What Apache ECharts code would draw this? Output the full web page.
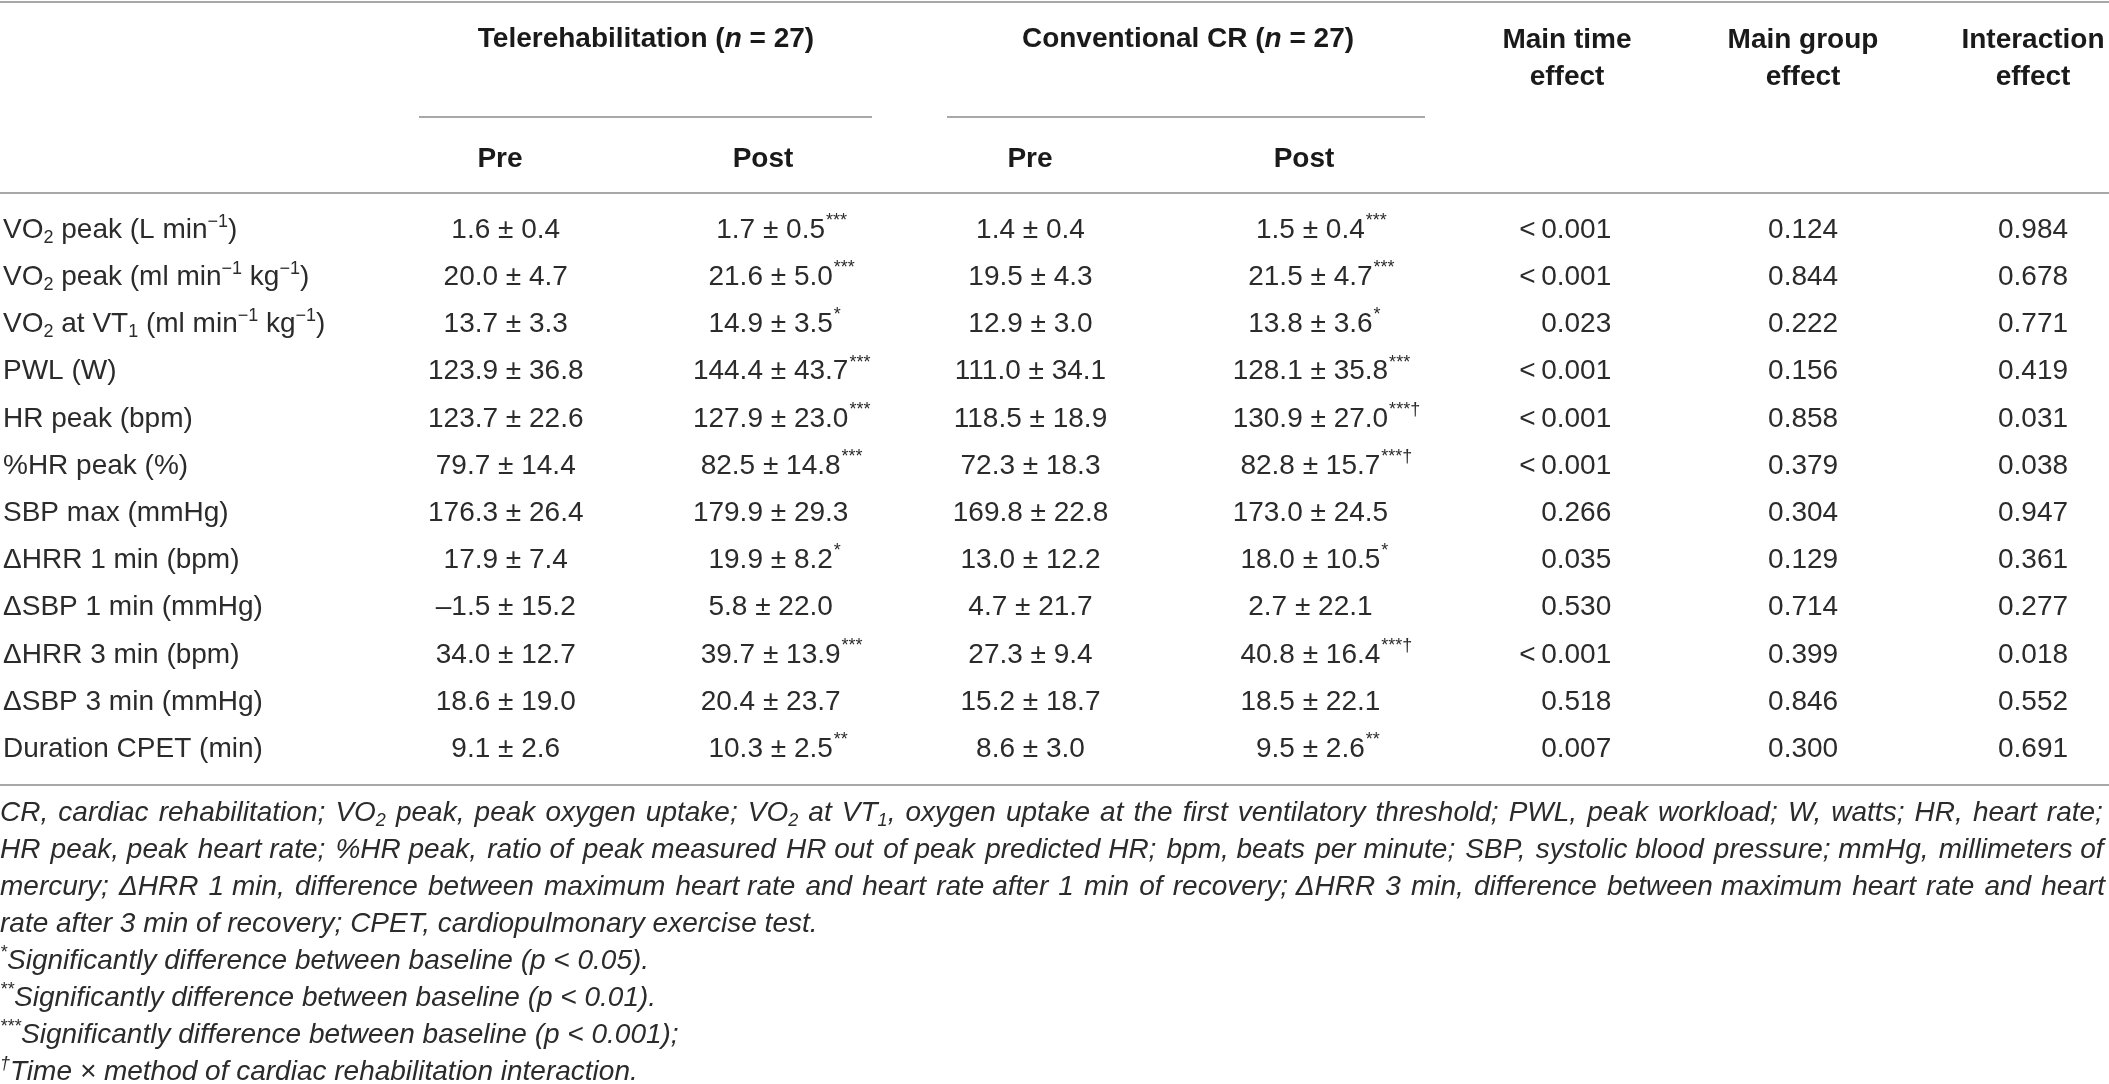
<!DOCTYPE html>
<html>
<head>
<meta charset="utf-8">
<script src="https://cdn.jsdelivr.net/npm/echarts@6/dist/echarts.min.js"></script>
<style>
html, body { margin: 0; padding: 0; background: #fff; }
#chart { width: 2109px; height: 1084px; }
</style>
</head>
<body>
<div id="chart"></div>
<script>
// table data
var rowLabels = [
    'VO{sub|2} peak (L min{sup|−1})',
    'VO{sub|2} peak (ml min{sup|−1} kg{sup|−1})',
    'VO{sub|2} at VT{sub|1} (ml min{sup|−1} kg{sup|−1})',
    'PWL (W)',
    'HR peak (bpm)',
    '%HR peak (%)',
    'SBP max (mmHg)',
    'ΔHRR 1 min (bpm)',
    'ΔSBP 1 min (mmHg)',
    'ΔHRR 3 min (bpm)',
    'ΔSBP 3 min (mmHg)',
    'Duration CPET (min)'
];
var telePreMean = [1.6, 20.0, 13.7, 123.9, 123.7, 79.7, 176.3, 17.9, -1.5, 34.0, 18.6, 9.1];
var telePreSd = [0.4, 4.7, 3.3, 36.8, 22.6, 14.4, 26.4, 7.4, 15.2, 12.7, 19.0, 2.6];
var telePostMean = [1.7, 21.6, 14.9, 144.4, 127.9, 82.5, 179.9, 19.9, 5.8, 39.7, 20.4, 10.3];
var telePostSd = [0.5, 5.0, 3.5, 43.7, 23.0, 14.8, 29.3, 8.2, 22.0, 13.9, 23.7, 2.5];
var telePostSig = ['***', '***', '*', '***', '***', '***', '', '*', '', '***', '', '**'];
var convPreMean = [1.4, 19.5, 12.9, 111.0, 118.5, 72.3, 169.8, 13.0, 4.7, 27.3, 15.2, 8.6];
var convPreSd = [0.4, 4.3, 3.0, 34.1, 18.9, 18.3, 22.8, 12.2, 21.7, 9.4, 18.7, 3.0];
var convPostMean = [1.5, 21.5, 13.8, 128.1, 130.9, 82.8, 173.0, 18.0, 2.7, 40.8, 18.5, 9.5];
var convPostSd = [0.4, 4.7, 3.6, 35.8, 27.0, 15.7, 24.5, 10.5, 22.1, 16.4, 22.1, 2.6];
var convPostSig = ['***', '***', '*', '***', '***†', '***†', '', '*', '', '***†', '', '**'];
var timeEffect = ['<\u20090.001', '<\u20090.001', '0.023', '<\u20090.001', '<\u20090.001', '<\u20090.001', '0.266', '0.035', '0.530', '<\u20090.001', '0.518', '0.007'];
var groupEffect = ['0.124', '0.844', '0.222', '0.156', '0.858', '0.379', '0.304', '0.129', '0.714', '0.399', '0.846', '0.300'];
var interactionEffect = ['0.984', '0.678', '0.771', '0.419', '0.031', '0.038', '0.947', '0.361', '0.277', '0.018', '0.552', '0.691'];

var footnotes = [
    'CR, cardiac rehabilitation; VO{sub|2} peak, peak oxygen uptake; VO{sub|2} at VT{sub|1}, oxygen uptake at the first ventilatory threshold; PWL, peak workload; W, watts; HR, heart rate;',
    'HR peak, peak heart rate; %HR peak, ratio of peak measured HR out of peak predicted HR; bpm, beats per minute; SBP, systolic blood pressure; mmHg, millimeters of',
    'mercury; ΔHRR 1 min, difference between maximum heart rate and heart rate after 1 min of recovery; ΔHRR 3 min, difference between maximum heart rate and heart',
    'rate after 3 min of recovery; CPET, cardiopulmonary exercise test.',
    '{sup|*}Significantly difference between baseline (p < 0.05).',
    '{sup|**}Significantly difference between baseline (p < 0.01).',
    '{sup|***}Significantly difference between baseline (p < 0.001);',
    '{sup|†}Time × method of cardiac rehabilitation interaction.'
];
var justifiedLines = 3;

// layout
var FONT = '"Liberation Sans", Arial, Helvetica, sans-serif';
var FS = 28;
var INK = '#2b2b2b';
var RULE = '#a8a8a8';
var colX = { telePre: 505, telePost: 770, convPre: 1030, convPost: 1310, time: 1611, group: 1803, inter: 2033 };

var ctx = document.createElement('canvas').getContext('2d');
function textWidth(t, font) {
    ctx.font = font || (FS + 'px ' + FONT);
    return ctx.measureText(t).width;
}

function fmt(v) {
    return (v < 0 ? '–' : '') + Math.abs(v).toFixed(1);
}
function cells(means, sds) {
    return means.map(function (m, i) { return fmt(m) + ' ± ' + sds[i].toFixed(1); });
}
// wrap plain runs of a rich string in the {n|...} style
function richRuns(s) {
    return s.replace(/(^|\})([^{}]+)(?=\{|$)/g, '$1{n|$2}');
}
// stretch a footnote line to the full width with hair spaces
function justify(line, target) {
    var big = 'italic 28px ' + FONT, small = 'italic 18px ' + FONT;
    var w = 0;
    line.replace(/\{(sub|sup)\|([^}]*)\}|([^{]+)/g, function (m, k, s, plain) {
        w += plain ? textWidth(plain, big) : textWidth(s, small);
        return m;
    });
    var gaps = line.split(' ').length - 1;
    var hair = textWidth('\u200A', big) || 1;
    var extra = (target - w) / gaps / hair;
    if (extra <= 0) return line;
    var acc = 0, count = 0;
    return line.replace(/ /g, function () {
        acc += extra;
        var k = Math.round(acc) - count;
        count += k;
        return ' ' + new Array(k + 1).join('\u200A');
    });
}

function cellSeries(x, texts, sups, align) {
    return {
        type: 'custom',
        coordinateSystem: 'cartesian2d',
        silent: true,
        data: texts.map(function (t, i) { return [x, i]; }),
        renderItem: function (params, api) {
            var p = api.coord([api.value(0), api.value(1)]);
            var t = texts[params.dataIndex];
            var kids = [{
                type: 'text', x: p[0], y: p[1],
                style: { text: t, align: align, verticalAlign: 'middle', fontSize: FS, fontFamily: FONT, fill: INK }
            }];
            var s = sups ? sups[params.dataIndex] : '';
            if (s) {
                var w = textWidth(t);
                kids.push({
                    type: 'text', x: p[0] + w / 2 + 1, y: p[1] - 9,
                    style: { text: s, align: 'left', verticalAlign: 'middle', fontSize: 18, fontFamily: FONT, fill: INK }
                });
            }
            return { type: 'group', children: kids };
        }
    };
}

var chart = echarts.init(document.getElementById('chart'));

function hline(x1, x2, y) {
    return { type: 'line', silent: true, shape: { x1: x1, y1: y, x2: x2, y2: y }, style: { stroke: RULE, lineWidth: 2 } };
}
function htext(x, y, text, rich) {
    return {
        type: 'text', x: x, y: y, silent: true,
        style: {
            text: text, align: 'center', verticalAlign: 'middle',
            fontSize: FS, fontWeight: 'bold', fontFamily: FONT, fill: '#1a1a1a',
            rich: rich
        }
    };
}
var headRich = {
    b: { fontSize: FS, fontWeight: 'bold', fontFamily: FONT, fill: '#1a1a1a' },
    bi: { fontSize: FS, fontWeight: 'bold', fontStyle: 'italic', fontFamily: FONT, fill: '#1a1a1a' }
};
var noteRich = {
    n: { fontSize: 28, fontStyle: 'italic', fontFamily: FONT, fill: INK, lineHeight: 34 },
    sub: { fontSize: 18, fontStyle: 'italic', fontFamily: FONT, fill: INK, lineHeight: 14, verticalAlign: 'bottom' },
    sup: { fontSize: 18, fontStyle: 'italic', fontFamily: FONT, fill: INK, lineHeight: 16, verticalAlign: 'top' }
};

var graphics = [
    hline(0, 2109, 2),
    hline(419, 872, 117),
    hline(947, 1425, 117),
    hline(0, 2109, 193),
    hline(0, 2109, 785),
    htext(646, 39, '{b|Telerehabilitation (}{bi|n}{b| = 27)}', headRich),
    htext(1188, 39, '{b|Conventional CR (}{bi|n}{b| = 27)}', headRich),
    htext(1567, 40, 'Main time'), htext(1567, 77, 'effect'),
    htext(colX.group, 40, 'Main group'), htext(colX.group, 77, 'effect'),
    htext(colX.inter, 40, 'Interaction'), htext(colX.inter, 77, 'effect'),
    htext(500, 159, 'Pre'), htext(763, 159, 'Post'),
    htext(colX.convPre, 159, 'Pre'), htext(1304, 159, 'Post')
];
footnotes.forEach(function (line, i) {
    var txt = i < justifiedLines ? justify(line, 2104) : line;
    graphics.push({
        type: 'text', x: 0, y: 813 + 37 * i, silent: true,
        style: { text: richRuns(txt), align: 'left', verticalAlign: 'middle', rich: noteRich }
    });
});

var option = {
    animation: false,
    backgroundColor: '#fff',
    grid: { left: 0, right: 0, top: 206.4, height: 566.4 },
    xAxis: { type: 'value', min: 0, max: 2109, show: false },
    yAxis: {
        type: 'category',
        inverse: true,
        data: rowLabels,
        axisLine: { show: false },
        axisTick: { show: false },
        splitLine: { show: false },
        axisLabel: {
            inside: true,
            margin: 2,
            formatter: function (v) { return richRuns(v); },
            rich: {
                n: { fontSize: FS, fontFamily: FONT, color: INK, lineHeight: 34 },
                sub: { fontSize: 18, fontFamily: FONT, color: INK, lineHeight: 14, verticalAlign: 'bottom' },
                sup: { fontSize: 18, fontFamily: FONT, color: INK, lineHeight: 16, verticalAlign: 'top' }
            }
        }
    },
    graphic: graphics,
    series: [
        cellSeries(colX.telePre, cells(telePreMean, telePreSd), null, 'center'),
        cellSeries(colX.telePost, cells(telePostMean, telePostSd), telePostSig, 'center'),
        cellSeries(colX.convPre, cells(convPreMean, convPreSd), null, 'center'),
        cellSeries(colX.convPost, cells(convPostMean, convPostSd), convPostSig, 'center'),
        cellSeries(colX.time, timeEffect, null, 'right'),
        cellSeries(colX.group, groupEffect, null, 'center'),
        cellSeries(colX.inter, interactionEffect, null, 'center')
    ]
};
chart.setOption(option);
</script>
</body>
</html>
